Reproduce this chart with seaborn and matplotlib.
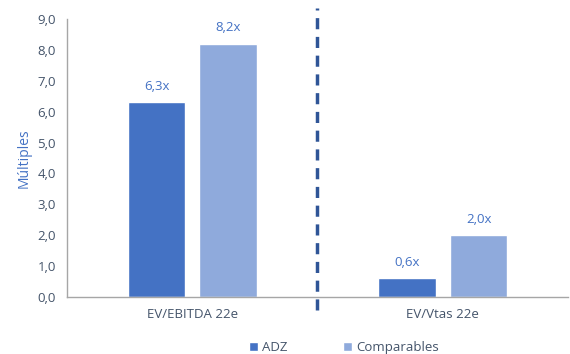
import matplotlib
matplotlib.use("Agg")
import matplotlib.pyplot as plt
import seaborn as sns
import pandas as pd
from matplotlib.ticker import FuncFormatter

categories = ["EV/EBITDA 22e", "EV/Vtas 22e"]
series_names = ["ADZ", "Comparables"]
adz_values = [6.3, 0.6]
comp_values = [8.2, 2.0]
yticks = [0, 1, 2, 3, 4, 5, 6, 7, 8, 9]

df = pd.DataFrame({
    "cat": categories * 2,
    "serie": [series_names[0]] * 2 + [series_names[1]] * 2,
    "val": adz_values + comp_values,
})

sns.set_style("white")
plt.rcParams['font.family'] = ['Open Sans', 'DejaVu Sans']

fig = plt.figure(figsize=(5.7, 3.54), dpi=100)
ax = fig.add_axes([0.1175, 0.161, 0.879, 0.785])

palette = {"ADZ": "#4472C4", "Comparables": "#8FAADC"}
sns.barplot(data=df, x="cat", y="val", hue="serie", palette=palette,
            width=0.571, gap=0.2, ax=ax, legend=True, saturation=1)

for cont in ax.containers:
    ax.bar_label(cont, labels=[f"{v:.1f}x".replace(".", ",") for v in cont.datavalues],
                 padding=7, color="#4472C4", fontsize=9.5)

ax.set_ylim(0, 9)
ax.set_xlim(-0.5, 1.5)
ax.set_yticks(yticks)
ax.yaxis.set_major_formatter(FuncFormatter(lambda v, p: f"{v:.1f}".replace(".", ",")))
ax.tick_params(axis="both", length=0, labelsize=9.5, colors="#44546A")
ax.tick_params(axis="y", pad=8)
ax.tick_params(axis="x", pad=8)
ax.set_xlabel("")
ax.set_ylabel("Múltiples", color="#4472C4", fontsize=10, labelpad=4)

for s in ["top", "right"]:
    ax.spines[s].set_visible(False)
for s in ["left", "bottom"]:
    ax.spines[s].set_color("#A6A6A6")
    ax.spines[s].set_linewidth(1)

ax.axvline(0.5, ymin=-0.045, ymax=1.04, color="#2F5597", linestyle=(0, (3.2, 2.2)),
           linewidth=2.5, clip_on=False)

leg = ax.legend(loc="upper center", bbox_to_anchor=(0.552, -0.125), ncol=2, frameon=False,
                handlelength=0.7, handleheight=0.7, handletextpad=0.3, columnspacing=4.2,
                fontsize=9.5, borderpad=0.2)
for t in leg.get_texts():
    t.set_color("#44546A")

fig.savefig("out.png", dpi=100)
